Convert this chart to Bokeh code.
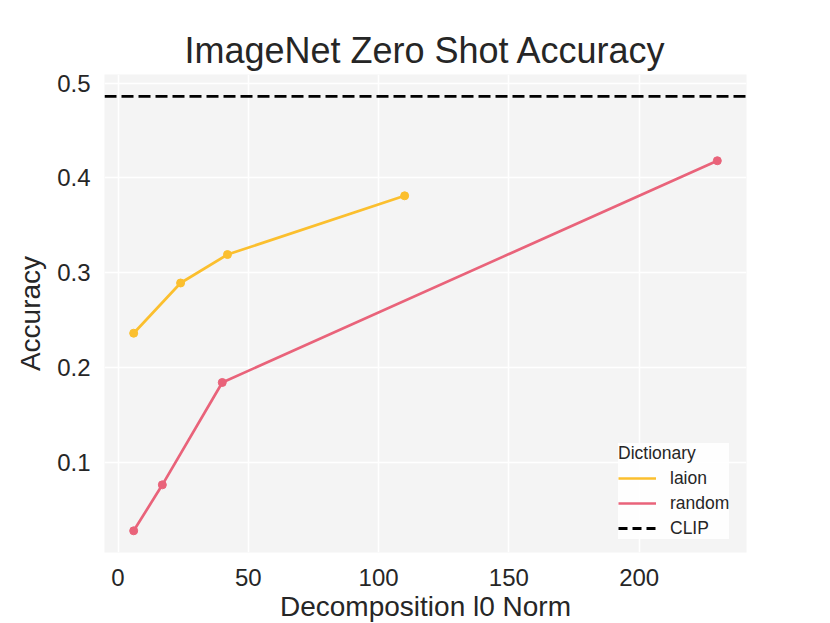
from bokeh.plotting import figure
from bokeh.models import Span, Legend, LegendItem, FixedTicker, Range1d
from bokeh.embed import file_html
from bokeh.resources import INLINE

# ---- data ----
laion_x = [6, 24, 42, 110]
laion_y = [0.236, 0.289, 0.319, 0.381]
random_x = [6, 17, 40, 230]
random_y = [0.0275, 0.076, 0.184, 0.418]
clip_acc = 0.486
x_ticks = [0, 50, 100, 150, 200]
y_ticks = [0.1, 0.2, 0.3, 0.4, 0.5]

FONT = "Liberation Sans"
TXT = "#262626"
LAION_C = "#fbbf2e"
RANDOM_C = "#e9637a"

FW, FH = 642, 478

p = figure(frame_width=FW, frame_height=FH, output_backend="svg", toolbar_location=None,
           x_range=Range1d(-5.2, 241.2), y_range=Range1d(0.0046, 0.509),
           min_border_left=104, min_border_right=84, min_border_top=74, min_border_bottom=71,
           title="ImageNet Zero Shot Accuracy")

p.background_fill_color = "#f4f4f4"
p.border_fill_color = "white"
p.outline_line_color = None

p.title.align = "center"
p.title.text_font = FONT
p.title.text_font_size = "36px"
p.title.text_font_style = "normal"
p.title.text_color = TXT
p.title.standoff = 8

for ax in (p.xaxis[0], p.yaxis[0]):
    ax.axis_line_color = None
    ax.major_tick_line_color = None
    ax.minor_tick_line_color = None
    ax.major_tick_out = 0
    ax.major_tick_in = 0
    ax.minor_tick_out = 0
    ax.minor_tick_in = 0
    ax.major_label_text_font = FONT
    ax.major_label_text_font_size = "24px"
    ax.major_label_text_color = TXT
    ax.axis_label_text_font = FONT
    ax.axis_label_text_font_size = "28px"
    ax.axis_label_text_font_style = "normal"
    ax.axis_label_text_color = TXT

p.xaxis.axis_label = "Decomposition l0 Norm"
p.yaxis.axis_label = "Accuracy"
p.xaxis.ticker = FixedTicker(ticks=x_ticks)
p.yaxis.ticker = FixedTicker(ticks=y_ticks)
p.xaxis.major_label_standoff = 16
p.yaxis.major_label_standoff = 14
p.xaxis.axis_label_standoff = 2
p.yaxis.axis_label_standoff = 8

p.grid.grid_line_color = "white"
p.grid.grid_line_width = 1.6

clip_span = Span(location=clip_acc, dimension="width", line_color="black",
                 line_width=2.8, line_dash="12 5")
p.add_layout(clip_span)

r_laion = p.line(laion_x, laion_y, line_color=LAION_C, line_width=2.7)
p.scatter(laion_x, laion_y, size=8, fill_color=LAION_C, line_color=LAION_C)
r_random = p.line(random_x, random_y, line_color=RANDOM_C, line_width=2.7)
p.scatter(random_x, random_y, size=8, fill_color=RANDOM_C, line_color=RANDOM_C)
# legend proxy for the CLIP reference line (a single point draws no segment)
r_clip = p.line([x_ticks[0]], [clip_acc], line_color="black", line_width=2.8, line_dash="9 5")

legend = Legend(items=[LegendItem(label="laion", renderers=[r_laion]),
                       LegendItem(label="random", renderers=[r_random]),
                       LegendItem(label="CLIP", renderers=[r_clip])],
                location=(514, 13), title="Dictionary")
legend.title_text_font = FONT
legend.title_text_font_size = "17.5px"
legend.title_text_font_style = "normal"
legend.title_text_color = TXT
legend.label_text_font = FONT
legend.label_text_font_size = "17.5px"
legend.label_text_color = TXT
legend.glyph_width = 38
legend.glyph_height = 22
legend.label_height = 22
legend.spacing = 3
legend.label_standoff = 14
legend.padding = 11
legend.title_standoff = 3
legend.border_line_color = None
legend.background_fill_color = "white"
legend.background_fill_alpha = 0.85
p.add_layout(legend, "center")

open("out.html", "w").write(file_html(p, INLINE))
